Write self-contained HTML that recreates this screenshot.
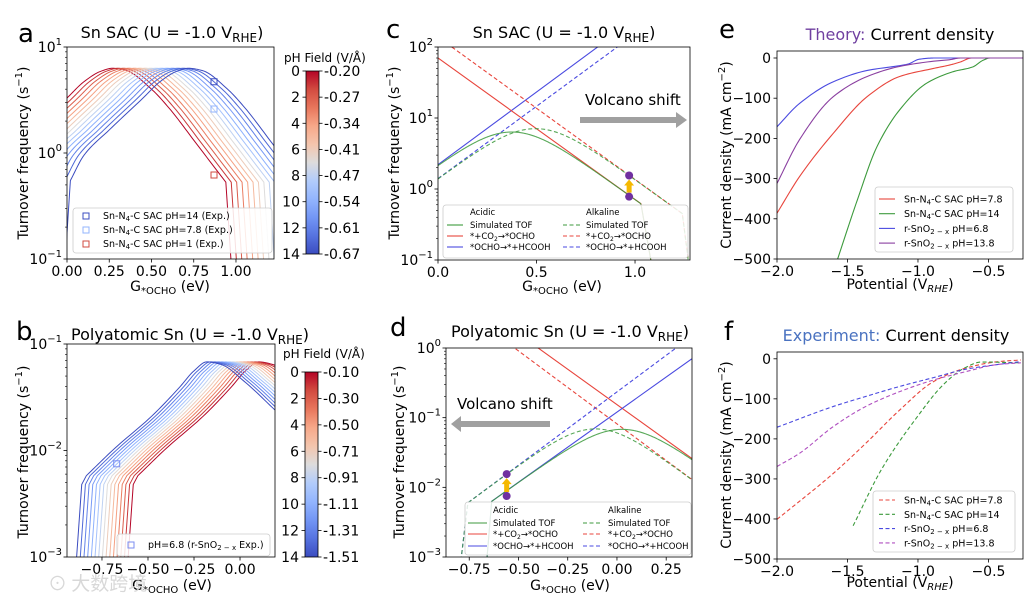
<!DOCTYPE html>
<html><head><meta charset="utf-8"><style>
html,body{margin:0;padding:0;background:#fff;}
svg{display:block;font-family:"DejaVu Sans","Liberation Sans",sans-serif;}
</style></head><body>
<svg id="fig" width="1029" height="599" viewBox="0 0 1029 599" xmlns="http://www.w3.org/2000/svg">
<defs>
<linearGradient id="cw" x1="0" y1="0" x2="0" y2="1">
<stop offset="0" stop-color="#b40426"/><stop offset="0.1" stop-color="#d24b40"/><stop offset="0.2" stop-color="#e8765c"/><stop offset="0.3" stop-color="#f7a889"/><stop offset="0.4" stop-color="#f4c5ad"/><stop offset="0.5" stop-color="#dddcdc"/><stop offset="0.6" stop-color="#b2ccfb"/><stop offset="0.7" stop-color="#93b5fe"/><stop offset="0.8" stop-color="#7396f5"/><stop offset="0.9" stop-color="#5673e0"/><stop offset="1" stop-color="#3b4cc0"/>
</linearGradient>
</defs>
<g font-size="26" fill="#000">
<text x="18" y="42">a</text>
<text x="16" y="340">b</text>
<text x="386" y="38">c</text>
<text x="390" y="336">d</text>
<text x="719" y="38">e</text>
<text x="724" y="340">f</text>
</g>
<g font-size="16" text-anchor="middle">
<text x="172" y="38">Sn SAC (U = -1.0 V<tspan font-size="12" dy="4">RHE</tspan><tspan dy="-4">)</tspan></text>
<text x="190" y="340">Polyatomic Sn (U = -1.0 V<tspan font-size="12" dy="4">RHE</tspan><tspan dy="-4">)</tspan></text>
<text x="564" y="38">Sn SAC (U = -1.0 V<tspan font-size="12" dy="4">RHE</tspan><tspan dy="-4">)</tspan></text>
<text x="570" y="337">Polyatomic Sn (U = -1.0 V<tspan font-size="12" dy="4">RHE</tspan><tspan dy="-4">)</tspan></text>
<text x="900" y="40"><tspan fill="#7040a0">Theory:</tspan> Current density</text>
<text x="896" y="341"><tspan fill="#4a72c0">Experiment:</tspan> Current density</text>
</g>
<g font-size="14" text-anchor="middle">
<text x="170" y="291">G<tspan font-size="10" dy="3">*OCHO</tspan><tspan dy="-3"> (eV)</tspan></text>
<text x="172" y="590">G<tspan font-size="10" dy="3">*OCHO</tspan><tspan dy="-3"> (eV)</tspan></text>
<text x="562" y="291">G<tspan font-size="10" dy="3">*OCHO</tspan><tspan dy="-3">  (eV)</tspan></text>
<text x="570" y="590">G<tspan font-size="10" dy="3">*OCHO</tspan><tspan dy="-3">  (eV)</tspan></text>
<text x="900" y="289">Potential (V<tspan font-size="10" dy="3" font-style="italic">RHE</tspan><tspan dy="-3">)</tspan></text>
<text x="900" y="587">Potential (V<tspan font-size="10" dy="3" font-style="italic">RHE</tspan><tspan dy="-3">)</tspan></text>
<text transform="translate(28,153) rotate(-90)">Turnover frequency (s<tspan font-size="10" dy="-6">−1</tspan><tspan dy="6">)</tspan></text>
<text transform="translate(28,452) rotate(-90)">Turnover frequency (s<tspan font-size="10" dy="-6">−1</tspan><tspan dy="6">)</tspan></text>
<text transform="translate(399,153) rotate(-90)">Turnover frequency (s<tspan font-size="10" dy="-6">−1</tspan><tspan dy="6">)</tspan></text>
<text transform="translate(404,452) rotate(-90)">Turnover frequency (s<tspan font-size="10" dy="-6">−1</tspan><tspan dy="6">)</tspan></text>
<text transform="translate(731,155) rotate(-90)">Current density (mA cm<tspan font-size="10" dy="-6">−2</tspan><tspan dy="6">)</tspan></text>
<text transform="translate(731,455) rotate(-90)">Current density (mA cm<tspan font-size="10" dy="-6">−2</tspan><tspan dy="6">)</tspan></text>
</g>
<g font-size="12">
<text x="284" y="62">pH  Field (V/Å)</text>
<text x="283" y="358">pH  Field (V/Å)</text>
</g>
<g font-size="15">
<text x="585" y="105">Volcano shift</text>
<text x="457" y="409">Volcano shift</text>
</g>
<polygon points="580,117 676,117 676,112 687,120 676,128 676,123 580,123" fill="#a0a0a0"/>
<polygon points="550,421 461,421 461,416 451,424 461,432 461,427 550,427" fill="#a0a0a0"/>
<text x="48" y="590" font-size="19" fill="#d8d8d8" font-family="'Noto Sans CJK SC',sans-serif">⊙ 大数跨境</text>
<g id="layer"></g>
</svg>
<script>
// ---------- data ----------
const pHLevels=[0,1,2,3,4,5,6,7,8,9,10,11,12,13,14];
const baseA=[[-0.46,0.1],[-0.43,0.55],[-0.35,0.95],[-0.2,1.65],[0.0,3.3],[0.1,4.7],[0.2,5.9],[0.27,6.3],[0.35,6.0],[0.5,4.0],[0.6,2.7],[0.77,1.2],[0.94,0.53],[0.97,0.1],[1.0,0.02]];
const shiftsA=[0,0.032,0.064,0.096,0.129,0.161,0.193,0.225,0.257,0.289,0.321,0.354,0.386,0.418,0.45];
const markersAG=[0.87,0.87,0.87];
const markersATOF=[4.7,2.6,0.62];
const baseB=[[-0.62,0.0005],[-0.58,0.0048],[-0.555,0.0058],[-0.4,0.0105],[-0.2,0.021],[-0.05,0.039],[0.03,0.056],[0.1,0.068],[0.18,0.064],[0.3,0.045],[0.47,0.024]];
const shiftsB=[0,-0.02,-0.04,-0.06,-0.08,-0.1,-0.12,-0.14,-0.16,-0.18,-0.2,-0.22,-0.24,-0.26,-0.28];
const markerBG=[-0.67];
const markerBTOF=[0.0075];
const cRedAcid=[[0,70],[1.03,0.62],[1.08,0.1],[1.1,0.01]];
const cBlueAcid=[[0,2.2],[0.81,100]];
const cRedAlk=[[0.07,100],[1.24,0.45],[1.27,0.1],[1.3,0.01]];
const cBlueAlk=[[0,1.4],[0.91,100]];
const cDotsG=[0.97,0.97];
const cDotsTOF=[1.55,0.78];
const dRedAcid=[[-0.4,1],[0.38,0.026]];
const dBlueAcid=[[-0.68,0.0002],[-0.636,0.0063],[0.38,0.7]];
const dRedAlk=[[-0.52,1],[0.38,0.013]];
const dBlueAlk=[[-0.82,0.0002],[-0.757,0.006],[0.30,1]];
const dDotsG=[-0.56,-0.56];
const dDotsTOF=[0.0155,0.0075];
const eRed=[[-2,-386],[-1.84,-295],[-1.6,-187],[-1.36,-96],[-1.13,-46],[-0.89,-26],[-0.77,-17],[-0.7,-10],[-0.62,0],[-0.25,0]];
const eGreen=[[-1.57,-500],[-1.43,-353],[-1.29,-220],[-1.13,-129],[-0.94,-63],[-0.75,-34],[-0.61,-22],[-0.54,-6],[-0.49,0],[-0.25,0]];
const eBlue=[[-2,-171],[-1.84,-113],[-1.6,-59],[-1.36,-31],[-1.13,-19],[-1.07,-15],[-0.99,-3],[-0.88,0],[-0.25,0]];
const ePurple=[[-2,-312],[-1.84,-203],[-1.6,-96],[-1.36,-46],[-1.13,-21],[-0.89,-8],[-0.77,-4],[-0.7,0],[-0.25,0]];
const fRed=[[-2,-401],[-1.6,-286],[-1.37,-211],[-1.13,-128],[-0.89,-57],[-0.66,-23],[-0.43,-7],[-0.27,-3]];
const fGreen=[[-1.46,-417],[-1.26,-277],[-1.02,-152],[-0.81,-61],[-0.67,-23],[-0.55,-8],[-0.27,-10]];
const fBlue=[[-2,-171],[-1.6,-119],[-1.37,-94],[-1.13,-69],[-0.89,-47],[-0.66,-26],[-0.43,-14],[-0.27,-7]];
const fPurple=[[-2,-269],[-1.84,-236],[-1.6,-169],[-1.37,-119],[-1.13,-82],[-0.89,-53],[-0.66,-32],[-0.43,-14],[-0.27,-10]];
const ticksA=[0,0.25,0.5,0.75,1.0]; const tickLabelsA=["0.00","0.25","0.50","0.75","1.00"];
const ticksB=[-0.75,-0.5,-0.25,0]; const tickLabelsB=["−0.75","−0.50","−0.25","0.00"];
const ticksC=[0,0.5,1.0]; const tickLabelsC=["0.0","0.5","1.0"];
const ticksD=[-0.75,-0.5,-0.25,0,0.25]; const tickLabelsD=["−0.75","−0.50","−0.25","0.00","0.25"];
const ticksE=[-2,-1.5,-1,-0.5]; const tickLabelsE=["−2.0","−1.5","−1.0","−0.5"];
const yTicksJ=[0,-100,-200,-300,-400,-500]; const yTickLabelsJ=["0","−100","−200","−300","−400","−500"];
const cbPH=[0,2,4,6,8,10,12,14];
const cbFieldA=["-0.20","-0.27","-0.34","-0.41","-0.47","-0.54","-0.61","-0.67"];
const cbFieldB=["-0.10","-0.30","-0.50","-0.71","-0.91","-1.11","-1.31","-1.51"];

// ---------- helpers ----------
const NS='http://www.w3.org/2000/svg';
const layer=document.getElementById('layer');
function mk(tag,attrs,parent){const e=document.createElementNS(NS,tag);for(const k in attrs)e.setAttribute(k,attrs[k]);(parent||layer).appendChild(e);return e;}
function axis(p){
  p.sx=v=>p.x0+(v-p.xmin)/(p.xmax-p.xmin)*(p.x1-p.x0);
  p.sy=v=>p.log?p.y1-(Math.log10(Math.max(v,1e-12))-Math.log10(p.ymin))/(Math.log10(p.ymax)-Math.log10(p.ymin))*(p.y1-p.y0):p.y1-(v-p.ymin)/(p.ymax-p.ymin)*(p.y1-p.y0);
  return p;
}
const stops=[[180,4,38],[210,75,64],[232,118,92],[247,168,137],[244,197,173],[221,220,220],[178,204,251],[147,181,254],[115,150,245],[86,115,224],[59,76,192]];
function cw(t){const f=t*10,i=Math.min(9,Math.floor(f)),r=f-i;const a=stops[i],b=stops[i+1];return 'rgb('+a.map((v,k)=>Math.round(v+(b[k]-v)*r)).join(',')+')';}
function interpLog(pts,g){
  let i=0; if(g<=pts[0][0]) i=0; else if(g>=pts[pts.length-1][0]) i=pts.length-2; else {while(pts[i+1][0]<g)i++;}
  const [x0,y0]=pts[i],[x1,y1]=pts[i+1];const l0=Math.log10(y0),l1=Math.log10(y1);
  return Math.pow(10,l0+(l1-l0)*(g-x0)/(x1-x0));
}
// monotone cubic (Fritsch-Carlson) densification
function smooth(pts,log){
  const n=pts.length; if(n<3) return pts;
  const x=pts.map(q=>q[0]), y=pts.map(q=>log?Math.log10(q[1]):q[1]);
  const d=[],m=[];
  for(let i=0;i<n-1;i++) d.push((y[i+1]-y[i])/(x[i+1]-x[i]));
  m[0]=d[0]; m[n-1]=d[n-2];
  for(let i=1;i<n-1;i++){ if(d[i-1]*d[i]<=0) m[i]=0; else {const w1=2*(x[i+1]-x[i])+(x[i]-x[i-1]), w2=(x[i+1]-x[i])+2*(x[i]-x[i-1]); m[i]=(w1+w2)/(w1/d[i-1]+w2/d[i]);} }
  const out=[];
  for(let i=0;i<n-1;i++){const h=x[i+1]-x[i];
    for(let k=0;k<12;k++){const t=k/12,t2=t*t,t3=t2*t;
      const v=(2*t3-3*t2+1)*y[i]+(t3-2*t2+t)*h*m[i]+(-2*t3+3*t2)*y[i+1]+(t3-t2)*h*m[i+1];
      out.push([x[i]+t*h,log?Math.pow(10,v):v]);}}
  out.push(pts[n-1]); return out;
}
// smooth only between indices i0..i1 (inclusive), keep outer kinked segments straight
function smoothRange(pts,log,i0,i1){
  return pts.slice(0,i0).concat(smooth(pts.slice(i0,i1+1),log)).concat(pts.slice(i1+1));
}
let clipN=0;
function frame(p,name){
  const id='clip'+(clipN++);
  const cp=mk('clipPath',{id:id});
  mk('rect',{x:p.x0,y:p.y0,width:p.x1-p.x0,height:p.y1-p.y0},cp);
  const g=mk('g',{'clip-path':'url(#'+id+')'});
  
  
  p.g=g; return p;
}
function border(p,name){
  const r=mk('rect',{x:p.x0,y:p.y0,width:p.x1-p.x0,height:p.y1-p.y0,fill:'none',stroke:'#000','stroke-width':0.8});
  
  
}
function xTicks(p,vals,labels,name){
  vals.forEach((v,i)=>{const x=p.sx(v);
    mk('line',{x1:x,x2:x,y1:p.y1,y2:p.y1+3.5,stroke:'#000','stroke-width':0.8});
    const t=mk('text',{x:x,y:p.y1+17,'font-size':14,'text-anchor':'middle'});t.textContent=labels[i];
    
    
  });
}
function yTicksLin(p,vals,labels,name){
  vals.forEach((v,i)=>{const y=p.sy(v);
    mk('line',{x1:p.x0-3.5,x2:p.x0,y1:y,y2:y,stroke:'#000','stroke-width':0.8});
    const t=mk('text',{x:p.x0-6,y:y+5,'font-size':14,'text-anchor':'end'});t.textContent=labels[i];
    
    
  });
}
function yTicksLog(p,name){
  const a=Math.round(Math.log10(p.ymin)),b=Math.round(Math.log10(p.ymax));
  for(let e=a;e<=b;e++){const y=p.sy(Math.pow(10,e));
    mk('line',{x1:p.x0-3.5,x2:p.x0,y1:y,y2:y,stroke:'#000','stroke-width':0.8});
    const t=mk('text',{x:p.x0-5,y:y+5,'font-size':14,'text-anchor':'end'});
    
    
    const s1=mk('tspan',{},t);s1.textContent='10';
    const s2=mk('tspan',{'font-size':10,dy:-7},t);s2.textContent=e<0?'−'+(-e):String(e);
    if(e<b){for(let m=2;m<10;m++){const ym=p.sy(m*Math.pow(10,e));mk('line',{x1:p.x0-2,x2:p.x0,y1:ym,y2:ym,stroke:'#000','stroke-width':0.6});}}
  }
}
function poly(p,pts,attrs,name){
  const d=pts.map((q,i)=>(i?'L':'M')+p.sx(q[0]).toFixed(2)+','+p.sy(q[1]).toFixed(2)).join('');
  const a=Object.assign({d:d,fill:'none','stroke-width':1.1,'stroke-linejoin':'round'},attrs);
  const e=mk('path',a,p.g);
  
  
  return e;
}
function harmonic(r,b,g0,g1){const out=[];for(let g=g0;g<=g1+1e-9;g+=0.004){const R=interpLog(r,g),B=interpLog(b,g);out.push([g,R*B/(R+B)]);}return out;}
function colorbar(x,y0,y1,fields,name){
  const r=mk('rect',{x:x,y:y0,width:13,height:y1-y0,fill:'url(#cw)',stroke:'#000','stroke-width':0.8});
  
  
  cbPH.forEach((v,i)=>{const y=y0+(v/14)*(y1-y0);
    mk('line',{x1:x-3.5,x2:x,y1:y,y2:y,stroke:'#000','stroke-width':0.8});
    mk('line',{x1:x+13,x2:x+16.5,y1:y,y2:y,stroke:'#000','stroke-width':0.8});
    const t=mk('text',{x:x-6,y:y+5,'font-size':14,'text-anchor':'end'});t.textContent=String(v);
    
    
    const t2=mk('text',{x:x+18,y:y+5,'font-size':14});t2.textContent=fields[i];
    
    
  });
}
function sq(p,g,v,col,name){const s=mk('rect',{x:p.sx(g)-3,y:p.sy(v)-3,width:6,height:6,fill:'none',stroke:col,'stroke-width':1},p.g);
  
  }
function dot(p,g,v,name){const c=mk('circle',{cx:p.sx(g),cy:p.sy(v),r:4,fill:'#7030a0'},p.g);
  
  }
function upArrow(p,g,vLow,vHigh,name){const x=p.sx(g),yb=p.sy(vLow)-4,yt=p.sy(vHigh)+4;
  const a=mk('polygon',{points:[x-2.5,yb,x+2.5,yb,x+2.5,yt+6,x+5,yt+6,x,yt,x-5,yt+6,x-2.5,yt+6].join(' '),fill:'#f5b800'},p.g);
  
  }
function legendBox(x,y,w,h,name){const r=mk('rect',{x:x,y:y,width:w,height:h,rx:3,fill:'#fff','fill-opacity':0.85,stroke:'#ccc','stroke-width':0.8});
  
  }
function legLine(x1,x2,y,col,dash){mk('line',{x1:x1,x2:x2,y1:y,y2:y,stroke:col,'stroke-width':1.1,'stroke-dasharray':dash?'4,2.5':'none'});}
function legText(x,y,html,fs,name){const t=mk('text',{x:x,y:y,'font-size':fs});t.innerHTML=html;
  
  }

const RED='#e8453c',GREEN='#3c9a3c',BLUE='#4a4ae0',PURPLE='#8a3fa0';
const sub4='N<tspan font-size="7" dy="2">4</tspan><tspan dy="-2">-C</tspan>';

// ---------- panel a ----------
const A=frame(axis({x0:67,x1:274,y0:47,y1:259,xmin:0,xmax:1.225,ymin:0.1,ymax:10,log:true}),'panel-a');
const smA=smoothRange(baseA,true,1,12);
pHLevels.forEach((ph,i)=>{poly(A,smA.map(q=>[q[0]+shiftsA[i],q[1]]),{stroke:cw(ph/14),'stroke-width':1},'volcano-curve-a-ph'+ph);});
sq(A,markersAG[0],markersATOF[0],'#3b4cc0','marker-ph14');
sq(A,markersAG[1],markersATOF[1],'#93b5fe','marker-ph7.8');
sq(A,markersAG[2],markersATOF[2],'#d24b40','marker-ph1');
border(A,'panel-a');yTicksLog(A,'panel-a');xTicks(A,ticksA,tickLabelsA,'panel-a');
legendBox(73,208,199,45,'legend-a');
mk('rect',{x:83,y:213,width:6,height:6,fill:'none',stroke:'#3b4cc0'});legText(103,219,'Sn-'+sub4+' SAC pH=14 (Exp.)',9.5,'legend-entry-ph14');
mk('rect',{x:83,y:227,width:6,height:6,fill:'none',stroke:'#93b5fe'});legText(103,233,'Sn-'+sub4+' SAC pH=7.8 (Exp.)',9.5,'legend-entry-ph7.8');
mk('rect',{x:83,y:241,width:6,height:6,fill:'none',stroke:'#d24b40'});legText(103,247,'Sn-'+sub4+' SAC pH=1 (Exp.)',9.5,'legend-entry-ph1');
colorbar(306,71,254,cbFieldA,'colorbar-a');

// ---------- panel b ----------
const B=frame(axis({x0:67,x1:275,y0:344,y1:557,xmin:-0.94,xmax:0.19,ymin:0.001,ymax:0.1,log:true}),'panel-b');
const smB=smoothRange(baseB,true,2,baseB.length-1);
pHLevels.forEach((ph,i)=>{poly(B,smB.map(q=>[q[0]+shiftsB[i],q[1]]),{stroke:cw(ph/14),'stroke-width':1},'volcano-curve-b-ph'+ph);});
sq(B,markerBG[0],markerBTOF[0],'#7b8ef0','marker-ph6.8');
border(B,'panel-b');yTicksLog(B,'panel-b');xTicks(B,ticksB,tickLabelsB,'panel-b');
legendBox(117,534,153,22,'legend-b');
mk('rect',{x:128,y:542,width:6,height:6,fill:'none',stroke:'#7b8ef0'});legText(148,548,'pH=6.8 (r-SnO<tspan font-size="7" dy="2">2 − x</tspan><tspan dy="-2"> Exp.)</tspan>',9.5,'legend-entry-rsno2');
colorbar(305,372,557,cbFieldB,'colorbar-b');

// ---------- panel c ----------
const C=frame(axis({x0:438,x1:690,y0:47,y1:260,xmin:0,xmax:1.279,ymin:0.1,ymax:100,log:true}),'panel-c');
poly(C,[[0,cBlueAcid[0][1]],[1.3,interpLog(cBlueAcid,1.3)]],{stroke:BLUE},'line-c-ocho-hcooh-acidic');
poly(C,[[0,cBlueAlk[0][1]],[1.3,interpLog(cBlueAlk,1.3)]],{stroke:BLUE,'stroke-dasharray':'4,2.5'},'line-c-ocho-hcooh-alkaline');
poly(C,cRedAcid,{stroke:RED},'line-c-co2-ocho-acidic');
poly(C,cRedAlk,{stroke:RED,'stroke-dasharray':'4,2.5'},'line-c-co2-ocho-alkaline');
poly(C,harmonic(cRedAcid,cBlueAcid,0,1.1),{stroke:GREEN,'stroke-opacity':0.85},'line-c-tof-acidic');
poly(C,harmonic(cRedAlk,cBlueAlk,0,1.3),{stroke:GREEN,'stroke-dasharray':'4,2.5','stroke-opacity':0.85},'line-c-tof-alkaline');
upArrow(C,cDotsG[0],cDotsTOF[1],cDotsTOF[0],'shift-arrow-c');
dot(C,cDotsG[0],cDotsTOF[0],'dot-c-alkaline');dot(C,cDotsG[1],cDotsTOF[1],'dot-c-acidic');
border(C,'panel-c');yTicksLog(C,'panel-c');xTicks(C,ticksC,tickLabelsC,'panel-c');
legendBox(443,205,245,53,'legend-c');
legText(470,215,'Acidic',8.5,'legend-c-acidic-header');legText(586,215,'Alkaline',8.5,'legend-c-alkaline-header');
legLine(447,463,225,GREEN,false);legText(470,228,'Simulated TOF',8.5,'legend-c-tof-acidic');
legLine(447,463,236,RED,false);legText(470,239,'*+CO<tspan font-size="6" dy="2">2</tspan><tspan dy="-2">→*OCHO</tspan>',8.5,'legend-c-co2-acidic');
legLine(447,463,247,BLUE,false);legText(470,250,'*OCHO→*+HCOOH',8.5,'legend-c-hcooh-acidic');
legLine(563,580,225,GREEN,true);legText(586,228,'Simulated TOF',8.5,'legend-c-tof-alkaline');
legLine(563,580,236,RED,true);legText(586,239,'*+CO<tspan font-size="6" dy="2">2</tspan><tspan dy="-2">→*OCHO</tspan>',8.5,'legend-c-co2-alkaline');
legLine(563,580,247,BLUE,true);legText(586,250,'*OCHO→*+HCOOH',8.5,'legend-c-hcooh-alkaline');

// ---------- panel d ----------
const D=frame(axis({x0:446,x1:692,y0:348,y1:557,xmin:-0.868,xmax:0.381,ymin:0.001,ymax:1,log:true}),'panel-d');
poly(D,[[-0.6,interpLog(dRedAcid,-0.6)],[0.4,interpLog(dRedAcid,0.4)]],{stroke:RED},'line-d-co2-ocho-acidic');
poly(D,[[-0.7,interpLog(dRedAlk,-0.7)],[0.4,interpLog(dRedAlk,0.4)]],{stroke:RED,'stroke-dasharray':'4,2.5'},'line-d-co2-ocho-alkaline');
poly(D,dBlueAcid,{stroke:BLUE},'line-d-ocho-hcooh-acidic');
poly(D,dBlueAlk,{stroke:BLUE,'stroke-dasharray':'4,2.5'},'line-d-ocho-hcooh-alkaline');
poly(D,harmonic(dRedAcid,dBlueAcid,-0.68,0.4),{stroke:GREEN,'stroke-opacity':0.85},'line-d-tof-acidic');
poly(D,harmonic(dRedAlk,dBlueAlk,-0.82,0.4),{stroke:GREEN,'stroke-dasharray':'4,2.5','stroke-opacity':0.85},'line-d-tof-alkaline');
upArrow(D,dDotsG[0],dDotsTOF[1],dDotsTOF[0],'shift-arrow-d');
dot(D,dDotsG[0],dDotsTOF[0],'dot-d-alkaline');dot(D,dDotsG[1],dDotsTOF[1],'dot-d-acidic');
border(D,'panel-d');yTicksLog(D,'panel-d');xTicks(D,ticksD,tickLabelsD,'panel-d');
legendBox(465,502,226,53,'legend-d');
legText(493,513,'Acidic',8.5,'legend-d-acidic-header');legText(608,513,'Alkaline',8.5,'legend-d-alkaline-header');
legLine(468,487,523,GREEN,false);legText(493,526,'Simulated TOF',8.5,'legend-d-tof-acidic');
legLine(468,487,534,RED,false);legText(493,537,'*+CO<tspan font-size="6" dy="2">2</tspan><tspan dy="-2">→*OCHO</tspan>',8.5,'legend-d-co2-acidic');
legLine(468,487,546,BLUE,false);legText(493,549,'*OCHO→*+HCOOH',8.5,'legend-d-hcooh-acidic');
legLine(583,601,523,GREEN,true);legText(608,526,'Simulated TOF',8.5,'legend-d-tof-alkaline');
legLine(583,601,534,RED,true);legText(608,537,'*+CO<tspan font-size="6" dy="2">2</tspan><tspan dy="-2">→*OCHO</tspan>',8.5,'legend-d-co2-alkaline');
legLine(583,601,546,BLUE,true);legText(608,549,'*OCHO→*+HCOOH',8.5,'legend-d-hcooh-alkaline');

// ---------- panel e ----------
const E=frame(axis({x0:777,x1:1023,y0:51,y1:259,xmin:-2,xmax:-0.255,ymin:-500,ymax:17.4,log:false}),'panel-e');
poly(E,smooth(eRed,false),{stroke:RED},'line-e-sac-ph7.8');
poly(E,smooth(eGreen,false),{stroke:GREEN},'line-e-sac-ph14');
poly(E,smooth(eBlue,false),{stroke:BLUE},'line-e-rsno2-ph6.8');
poly(E,smooth(ePurple,false),{stroke:PURPLE},'line-e-rsno2-ph13.8');
border(E,'panel-e');yTicksLin(E,yTicksJ,yTickLabelsJ,'panel-e');xTicks(E,ticksE,tickLabelsE,'panel-e');
legendBox(875,187,138,65,'legend-e');
const eLeg=[[RED,'Sn-'+sub4+' SAC pH=7.8'],[GREEN,'Sn-'+sub4+' SAC pH=14'],[BLUE,'r-SnO<tspan font-size="7" dy="2">2 − x</tspan><tspan dy="-2">  pH=6.8</tspan>'],[PURPLE,'r-SnO<tspan font-size="7" dy="2">2 − x</tspan><tspan dy="-2">  pH=13.8</tspan>']];
eLeg.forEach((l,i)=>{const y=199+i*14.7;legLine(879,895,y,l[0],false);legText(904,y+3.5,l[1],9.5,'legend-e-entry');});

// ---------- panel f ----------
const F=frame(axis({x0:777,x1:1023,y0:352,y1:559,xmin:-2,xmax:-0.255,ymin:-500,ymax:17,log:false}),'panel-f');
poly(F,smooth(fRed,false),{stroke:RED,'stroke-dasharray':'4,2.5'},'line-f-sac-ph7.8');
poly(F,smooth(fGreen,false),{stroke:GREEN,'stroke-dasharray':'4,2.5'},'line-f-sac-ph14');
poly(F,smooth(fBlue,false),{stroke:BLUE,'stroke-dasharray':'4,2.5'},'line-f-rsno2-ph6.8');
poly(F,smooth(fPurple,false),{stroke:'#b050c0','stroke-dasharray':'4,2.5'},'line-f-rsno2-ph13.8');
border(F,'panel-f');yTicksLin(F,yTicksJ,yTickLabelsJ,'panel-f');xTicks(F,ticksE,tickLabelsE,'panel-f');
legendBox(873,491,142,61,'legend-f');
const fCols=[RED,GREEN,BLUE,'#b050c0'];
eLeg.forEach((l,i)=>{const y=500+i*14.3;legLine(879,895,y,fCols[i],true);legText(904,y+3.5,l[1],9.5,'legend-f-entry');});
</script>
</body></html>
